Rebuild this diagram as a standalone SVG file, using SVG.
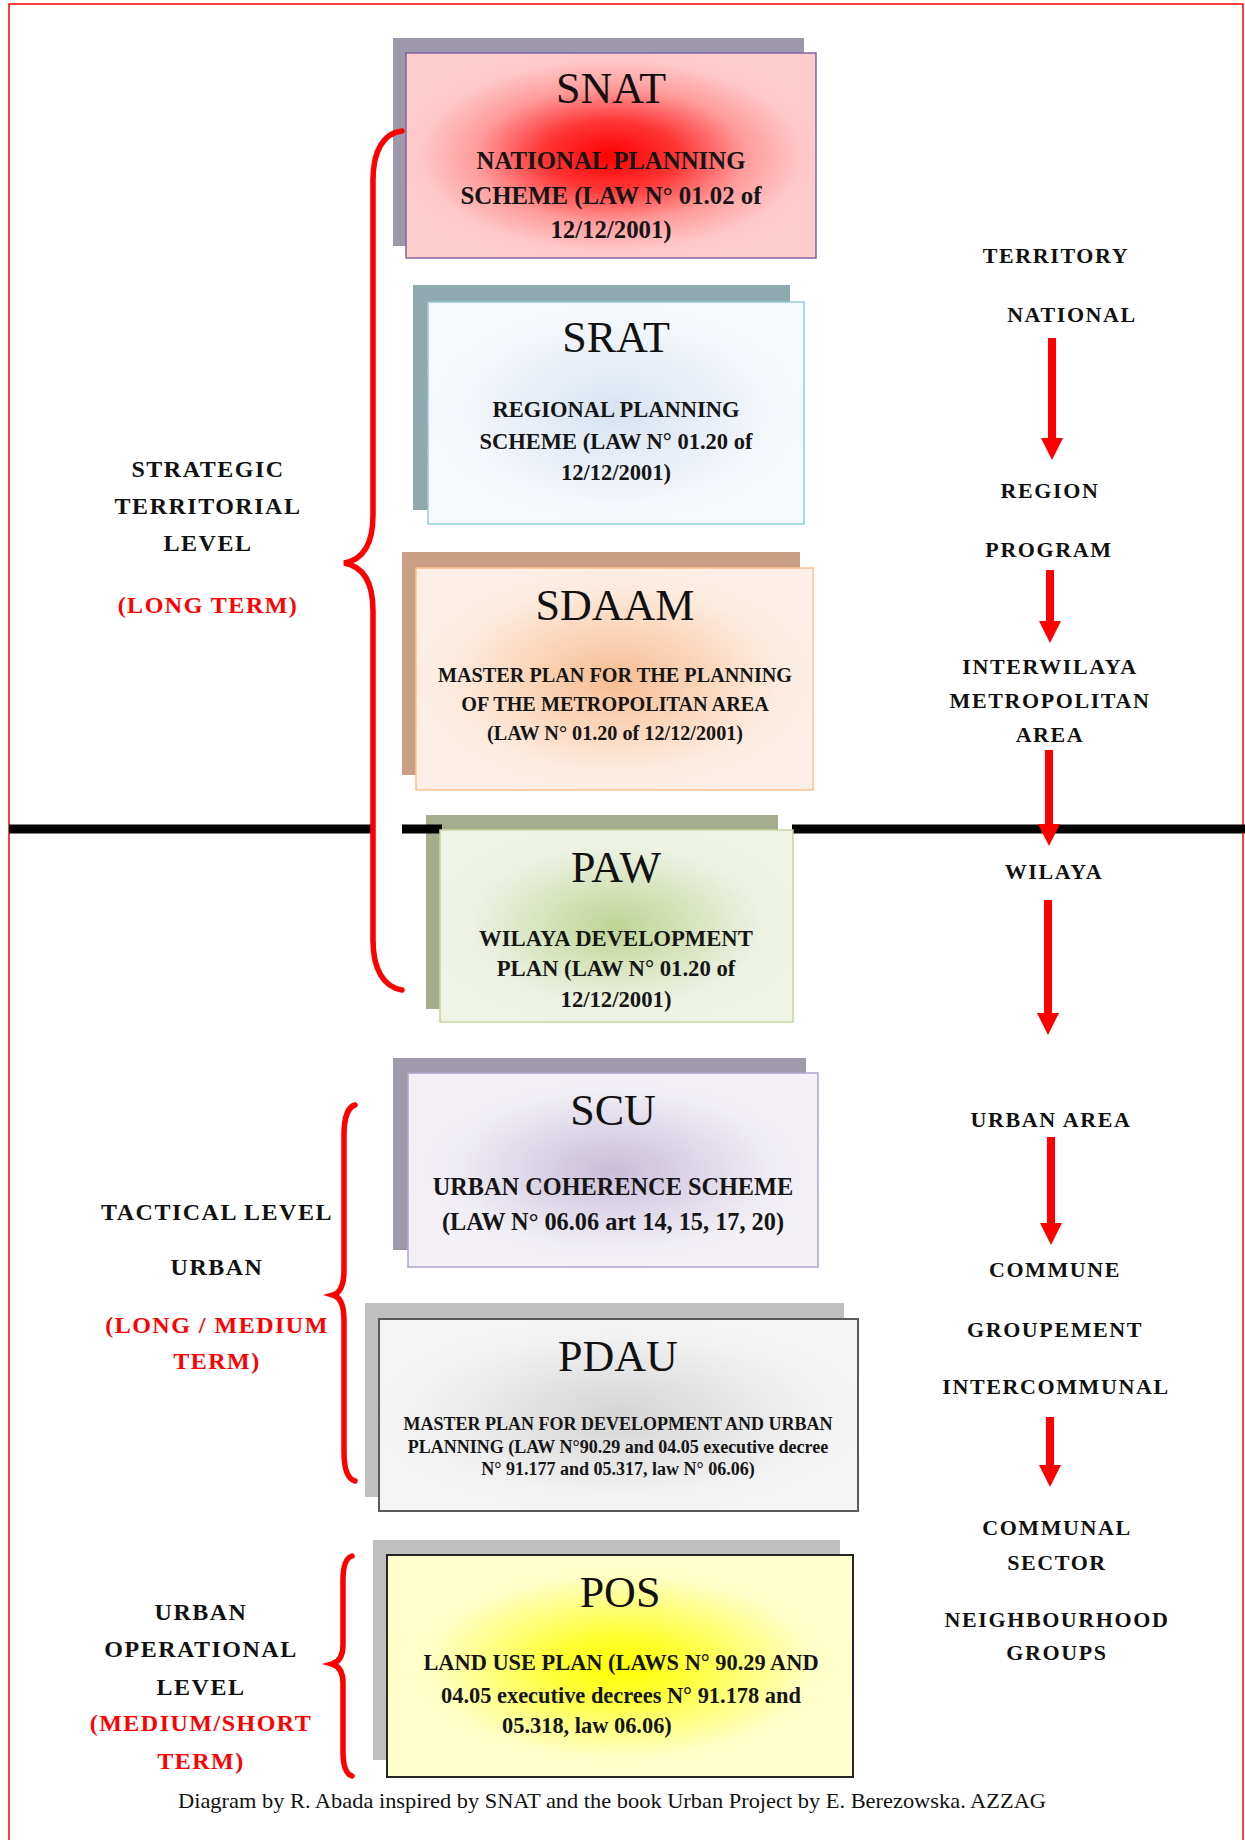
<svg xmlns="http://www.w3.org/2000/svg" width="1245" height="1840" viewBox="0 0 1245 1840">
<defs>
<style>
.title{font-family:"Liberation Serif","Times New Roman",serif;font-size:44px;text-anchor:middle;fill:#111}
.body{font-family:"Liberation Serif","Times New Roman",serif;font-weight:bold;text-anchor:middle;fill:#151515}
.lbl{font-family:"Liberation Serif","Times New Roman",serif;font-weight:bold;font-size:24px;letter-spacing:1.5px;text-anchor:middle;fill:#111}
.rl{font-family:"Liberation Serif","Times New Roman",serif;font-weight:bold;font-size:22px;letter-spacing:1.6px;text-anchor:middle;fill:#111}
.red{fill:#ff0000}
.brace{fill:none;stroke:#ff0000;stroke-width:5.5;stroke-linecap:round}
.arrow{stroke:#ff0000;stroke-width:8}
.cap{font-family:"Liberation Serif","Times New Roman",serif;font-size:21px;fill:#111}
</style>
<radialGradient id="gSnat" cx="0.5" cy="0.5" r="0.55"><stop offset="0" stop-color="#ff0000"/><stop offset="0.3" stop-color="#ff3535"/><stop offset="0.6" stop-color="#ff9c9c"/><stop offset="0.85" stop-color="#ffc8c8"/><stop offset="1" stop-color="#ffcccc"/></radialGradient>
<radialGradient id="gSrat" cx="0.5" cy="0.5" r="0.55"><stop offset="0" stop-color="#d8e3f0"/><stop offset="0.75" stop-color="#f4f7fb"/><stop offset="1" stop-color="#f7f9fc"/></radialGradient>
<radialGradient id="gSdaam" cx="0.5" cy="0.5" r="0.55"><stop offset="0" stop-color="#f8bd92"/><stop offset="0.75" stop-color="#fdebde"/><stop offset="1" stop-color="#fdefe5"/></radialGradient>
<radialGradient id="gPaw" cx="0.5" cy="0.5" r="0.55"><stop offset="0" stop-color="#bfd494"/><stop offset="0.75" stop-color="#edf2e2"/><stop offset="1" stop-color="#eff4e7"/></radialGradient>
<radialGradient id="gScu" cx="0.5" cy="0.5" r="0.55"><stop offset="0" stop-color="#c9bdd9"/><stop offset="0.75" stop-color="#f1eff5"/><stop offset="1" stop-color="#f3f1f6"/></radialGradient>
<radialGradient id="gPdau" cx="0.5" cy="0.5" r="0.55"><stop offset="0" stop-color="#d4d4d4"/><stop offset="0.75" stop-color="#f2f2f2"/><stop offset="1" stop-color="#f5f5f5"/></radialGradient>
<radialGradient id="gPos" cx="0.5" cy="0.5" r="0.55"><stop offset="0" stop-color="#ffff00"/><stop offset="0.25" stop-color="#ffff33"/><stop offset="0.75" stop-color="#ffffc8"/><stop offset="1" stop-color="#ffffcc"/></radialGradient>
<marker id="ah" markerUnits="userSpaceOnUse" markerWidth="24" markerHeight="24" refX="2" refY="11" orient="auto"><path d="M0,0 L22,11 L0,22 z" fill="#ff0000"/></marker>
</defs>
<rect x="0" y="0" width="1245" height="1840" fill="#ffffff"/>
<rect x="9" y="4" width="1234" height="1860" fill="none" stroke="#ff0000" stroke-width="1.5"/>

<g id="snat">
<rect x="393" y="38" width="411" height="208" fill="#9d98aa"/>
<rect x="406" y="53" width="410" height="205" fill="url(#gSnat)" stroke="#8064a2" stroke-width="1.5"/>
<text class="title" x="611" y="103">SNAT</text>
<text class="body" font-size="24.8" x="611" y="169">NATIONAL PLANNING</text>
<text class="body" font-size="24.8" x="611" y="204">SCHEME (LAW N° 01.02 of</text>
<text class="body" font-size="24.8" x="611" y="238">12/12/2001)</text>
</g>

<g id="srat">
<rect x="413" y="285" width="377" height="225" fill="#8fa9ae"/>
<rect x="428" y="302" width="376" height="222" fill="url(#gSrat)" stroke="#92cddc" stroke-width="1.5"/>
<text class="title" x="616" y="352">SRAT</text>
<text class="body" font-size="22.5" x="616" y="417">REGIONAL PLANNING</text>
<text class="body" font-size="22.5" x="616" y="449">SCHEME (LAW N° 01.20 of</text>
<text class="body" font-size="22.5" x="616" y="480">12/12/2001)</text>
</g>

<g id="sdaam">
<rect x="402" y="552" width="398" height="223" fill="#c9a085"/>
<rect x="416" y="568" width="397" height="222" fill="url(#gSdaam)" stroke="#fac090" stroke-width="1.5"/>
<text class="title" x="615" y="620">SDAAM</text>
<text class="body" font-size="20.2" x="615" y="682">MASTER PLAN FOR THE PLANNING</text>
<text class="body" font-size="20.2" x="615" y="711">OF THE METROPOLITAN AREA</text>
<text class="body" font-size="20.2" x="615" y="740">(LAW N° 01.20 of 12/12/2001)</text>
</g>

<g id="paw-shadow">
<rect x="426" y="815" width="352" height="194" fill="#a6ad8f"/>
</g>

<g id="divider">
<line x1="9" y1="829" x2="372" y2="829" stroke="#000" stroke-width="9"/>
<line x1="402" y1="829" x2="442" y2="829" stroke="#000" stroke-width="9"/>
<line x1="792" y1="829" x2="1245" y2="829" stroke="#000" stroke-width="9"/>
</g>

<g id="paw">
<rect x="440" y="830" width="353" height="192" fill="url(#gPaw)" stroke="#c3d69b" stroke-width="1.5"/>
<text class="title" x="616" y="882">PAW</text>
<text class="body" font-size="22.7" x="616" y="946">WILAYA DEVELOPMENT</text>
<text class="body" font-size="22.7" x="616" y="976">PLAN (LAW N° 01.20 of</text>
<text class="body" font-size="22.7" x="616" y="1007">12/12/2001)</text>
</g>

<g id="scu">
<rect x="393" y="1058" width="413" height="192" fill="#9f99a9"/>
<rect x="408" y="1073" width="410" height="194" fill="url(#gScu)" stroke="#b3a2c7" stroke-width="1.5"/>
<text class="title" x="613" y="1125">SCU</text>
<text class="body" font-size="24.3" x="613" y="1195">URBAN COHERENCE SCHEME</text>
<text class="body" font-size="24.3" x="613" y="1230">(LAW N° 06.06 art 14, 15, 17, 20)</text>
</g>

<g id="pdau">
<rect x="365" y="1303" width="479" height="194" fill="#bfbfbf"/>
<rect x="379" y="1319" width="479" height="192" fill="url(#gPdau)" stroke="#5a5a5a" stroke-width="2"/>
<text class="title" x="618" y="1371">PDAU</text>
<text class="body" font-size="18" x="618" y="1430">MASTER PLAN FOR DEVELOPMENT AND URBAN</text>
<text class="body" font-size="18" x="618" y="1453">PLANNING (LAW N°90.29 and 04.05 executive decree</text>
<text class="body" font-size="18" x="618" y="1475">N° 91.177 and 05.317, law N° 06.06)</text>
</g>

<g id="pos">
<rect x="373" y="1540" width="467" height="220" fill="#bfbfbf"/>
<rect x="387" y="1555" width="466" height="222" fill="url(#gPos)" stroke="#262626" stroke-width="2"/>
<text class="title" x="620" y="1607">POS</text>
<text class="body" font-size="22.4" x="621" y="1670">LAND USE PLAN (LAWS N° 90.29 AND</text>
<text class="body" font-size="22.4" x="621" y="1703">04.05 executive decrees N° 91.178 and</text>
<text class="body" font-size="22.4" x="502" y="1733" style="text-anchor:start">05.318, law 06.06)</text>
</g>

<g id="brace-strategic">
<path class="brace" d="M402,131 C384,133 373,150 373,180 L373,515 C373,545 362,560 344,563 C362,566 373,581 373,611 L373,940 C373,970 384,987 402,990"/>
<text class="lbl" x="208" y="477">STRATEGIC</text>
<text class="lbl" x="208" y="514">TERRITORIAL</text>
<text class="lbl" x="208" y="551">LEVEL</text>
<text class="lbl red" x="208" y="613">(LONG TERM)</text>
</g>

<g id="brace-tactical">
<path class="brace" d="M355,1105 C348,1107 344,1118 344,1135 L344,1270 C344,1285 340,1293 333,1295 C340,1297 344,1305 344,1320 L344,1452 C344,1469 348,1479 355,1481"/>
<text class="lbl" x="217" y="1220">TACTICAL LEVEL</text>
<text class="lbl" x="217" y="1275">URBAN</text>
<text class="lbl red" x="217" y="1333">(LONG / MEDIUM</text>
<text class="lbl red" x="217" y="1369">TERM)</text>
</g>

<g id="brace-operational">
<path class="brace" d="M352,1556 C346,1558 343,1566 343,1580 L343,1645 C343,1656 339,1662 332,1664 C339,1666 343,1672 343,1683 L343,1752 C343,1766 346,1774 352,1776"/>
<text class="lbl" x="201" y="1620">URBAN</text>
<text class="lbl" x="201" y="1657">OPERATIONAL</text>
<text class="lbl" x="201" y="1695">LEVEL</text>
<text class="lbl red" x="201" y="1731">(MEDIUM/SHORT</text>
<text class="lbl red" x="201" y="1769">TERM)</text>
</g>

<g id="scale-labels">
<text class="rl" x="1056" y="263">TERRITORY</text>
<text class="rl" x="1072" y="322">NATIONAL</text>
<text class="rl" x="1050" y="498">REGION</text>
<text class="rl" x="1049" y="557">PROGRAM</text>
<text class="rl" x="1050" y="674">INTERWILAYA</text>
<text class="rl" x="1050" y="708">METROPOLITAN</text>
<text class="rl" x="1050" y="742">AREA</text>
<text class="rl" x="1054" y="879">WILAYA</text>
<text class="rl" x="1051" y="1127">URBAN AREA</text>
<text class="rl" x="1055" y="1277">COMMUNE</text>
<text class="rl" x="1055" y="1337">GROUPEMENT</text>
<text class="rl" x="1056" y="1394">INTERCOMMUNAL</text>
<text class="rl" x="1057" y="1535">COMMUNAL</text>
<text class="rl" x="1057" y="1570">SECTOR</text>
<text class="rl" x="1057" y="1627">NEIGHBOURHOOD</text>
<text class="rl" x="1057" y="1660">GROUPS</text>
</g>

<g id="connectors">
<line class="arrow" x1="1052" y1="338" x2="1052" y2="440" marker-end="url(#ah)"/>
<line class="arrow" x1="1050" y1="570" x2="1050" y2="623" marker-end="url(#ah)"/>
<line class="arrow" x1="1049" y1="750" x2="1049" y2="826" marker-end="url(#ah)"/>
<line class="arrow" x1="1048" y1="900" x2="1048" y2="1015" marker-end="url(#ah)"/>
<line class="arrow" x1="1051" y1="1137" x2="1051" y2="1225" marker-end="url(#ah)"/>
<line class="arrow" x1="1050" y1="1417" x2="1050" y2="1467" marker-end="url(#ah)"/>
</g>

<text class="cap" x="178" y="1808" textLength="868" lengthAdjust="spacingAndGlyphs">Diagram by R. Abada inspired by SNAT and the book Urban Project by E. Berezowska. AZZAG</text>
</svg>
